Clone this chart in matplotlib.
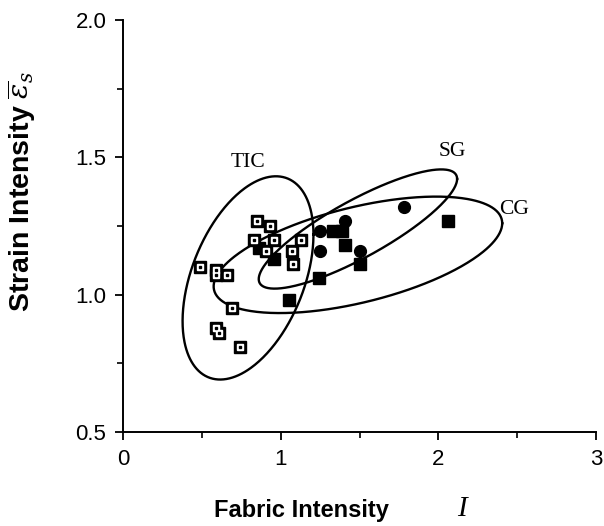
import numpy as np
import matplotlib
matplotlib.use("Agg")
import matplotlib.pyplot as plt
from matplotlib.ticker import MultipleLocator

plt.rcParams["mathtext.fontset"] = "dejavuserif"

# open squares (TIC)
tic_x = [0.85, 0.93, 0.83, 0.96, 1.13, 0.91, 1.07, 1.08, 0.49, 0.59, 0.59, 0.66, 0.69, 0.59, 0.61, 0.74]
tic_y = [1.27, 1.25, 1.20, 1.20, 1.20, 1.16, 1.16, 1.11, 1.10, 1.09, 1.07, 1.07, 0.95, 0.88, 0.86, 0.81]

# filled squares (CG)
cg_x = [0.86, 0.96, 1.05, 1.24, 1.33, 1.39, 1.41, 1.50, 2.06]
cg_y = [1.17, 1.13, 0.98, 1.06, 1.23, 1.23, 1.18, 1.11, 1.27]

# filled circles (SG)
sg_x = [1.25, 1.41, 1.25, 1.50, 1.78]
sg_y = [1.23, 1.27, 1.16, 1.16, 1.32]

# ellipses: centre x, centre y, half-width, half-height, correlation
ell_names = ["TIC", "SG", "CG"]
ell_cx = [0.793, 1.490, 1.490]
ell_cy = [1.061, 1.239, 1.145]
ell_sx = [0.415, 0.629, 0.915]
ell_sy = [0.370, 0.217, 0.212]
ell_rho = [0.426, 0.840, 0.542]

label_x = [0.79, 2.09, 2.48]
label_y = [1.48, 1.52, 1.31]


def ellipse_path(cx, cy, sx, sy, rho, n=400):
    cov = np.array([[sx * sx, rho * sx * sy], [rho * sx * sy, sy * sy]])
    L = np.linalg.cholesky(cov)
    t = np.linspace(0, 2 * np.pi, n)
    pts = L @ np.vstack([np.cos(t), np.sin(t)])
    return cx + pts[0], cy + pts[1]


fig = plt.figure(figsize=(6.04, 5.26), dpi=100)
ax = fig.add_axes([0.2036, 0.1787, 0.7832, 0.7833])

for i, name in enumerate(ell_names):
    ex, ey = ellipse_path(ell_cx[i], ell_cy[i], ell_sx[i], ell_sy[i], ell_rho[i])
    ax.plot(ex, ey, color="black", lw=1.7, zorder=2)
    ax.text(label_x[i], label_y[i], name, family="Liberation Serif", fontsize=15.5,
            ha="center", va="center")

# open squares with dot
ax.plot(tic_x, tic_y, ls="none", marker="s", ms=8.5, mfc="black", mec="black", zorder=3)
ax.plot(tic_x, tic_y, ls="none", marker="s", ms=5, mfc="white", mec="white", zorder=4)
ax.plot(tic_x, tic_y, ls="none", marker="s", ms=2, mfc="black", mec="black", zorder=5)

ax.plot(cg_x, cg_y, ls="none", marker="s", ms=9, mfc="black", mec="black", zorder=3)
ax.plot(sg_x, sg_y, ls="none", marker="o", ms=8.5, mfc="black", mec="black", zorder=3)

ax.set_xlim(0, 3)
ax.set_ylim(0.5, 2.0)
ax.xaxis.set_minor_locator(MultipleLocator(0.5))
ax.yaxis.set_minor_locator(MultipleLocator(0.25))

for s in ["top", "right"]:
    ax.spines[s].set_visible(False)
for s in ["left", "bottom"]:
    ax.spines[s].set_linewidth(1.4)

ax.tick_params(which="major", direction="out", length=6, width=1.3, labelsize=16, pad=6)
ax.tick_params(which="minor", direction="out", length=4, width=1.2)
ax.set_xticks([0, 1, 2, 3])
ax.set_xticklabels(["0", "1", "2", "3"], family="Liberation Sans")
ax.set_yticks([0.5, 1.0, 1.5, 2.0])
ax.set_yticklabels(["0.5", "1.0", "1.5", "2.0"], family="Liberation Sans")

fig.text(0.499, 0.03, "Fabric Intensity", ha="center", va="center",
         family="Liberation Sans", fontweight="bold", fontsize=17)
fig.text(0.765, 0.032, "I", ha="center", va="center",
         family="Liberation Serif", style="italic", fontsize=21)
fig.text(0.036, 0.635, "Strain Intensity $\\overline{\\varepsilon}_s$", ha="center", va="center",
         rotation=90, family="Liberation Sans", fontweight="bold", fontsize=20.5)

fig.savefig("out.png", dpi=100)
